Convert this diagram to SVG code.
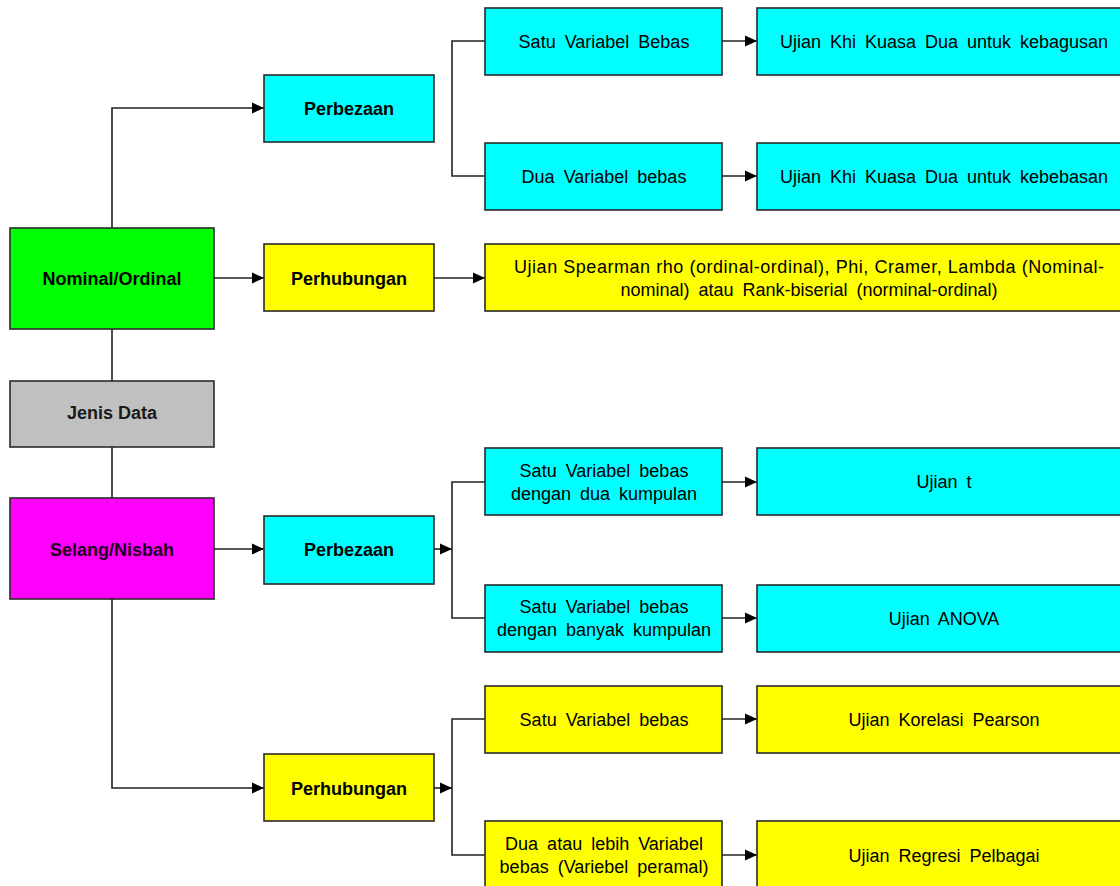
<svg xmlns="http://www.w3.org/2000/svg" width="1120" height="886" viewBox="0 0 1120 886">
<style>
.box{stroke:#2a2a2a;stroke-width:1.6}
.cy{fill:#00ffff}.ye{fill:#ffff00}.gr{fill:#00ff00}.mg{fill:#ff00ff}.gy{fill:#c0c0c0}
text{font-family:"Liberation Sans",Arial,sans-serif;font-size:18px;fill:#000;text-anchor:middle}
.b{font-weight:bold}
.r{word-spacing:4px}
.conn{fill:none;stroke:#222;stroke-width:1.6}
</style>
<defs>
<marker id="ah" markerUnits="userSpaceOnUse" markerWidth="12" markerHeight="12" viewBox="0 0 12 12" refX="12" refY="6" orient="auto">
<path d="M0,0.5 L12,6 L0,11.5 z" fill="#000"/>
</marker>
</defs>
<rect width="1120" height="886" fill="#fff"/>

<g id="connectors">
<path class="conn" d="M112,228 V108 H264" marker-end="url(#ah)"/>
<path class="conn" d="M214,278 H264" marker-end="url(#ah)"/>
<path class="conn" d="M434,278 H485" marker-end="url(#ah)"/>
<path class="conn" d="M485,41 H452 V176 H485"/>
<path class="conn" d="M722,41 H757" marker-end="url(#ah)"/>
<path class="conn" d="M722,176 H757" marker-end="url(#ah)"/>
<path class="conn" d="M112,329 V381"/>
<path class="conn" d="M112,447 V498"/>
<path class="conn" d="M214,549 H264" marker-end="url(#ah)"/>
<path class="conn" d="M434,549 H452" marker-end="url(#ah)"/>
<path class="conn" d="M485,482 H452 V618 H485"/>
<path class="conn" d="M722,482 H757" marker-end="url(#ah)"/>
<path class="conn" d="M722,618 H757" marker-end="url(#ah)"/>
<path class="conn" d="M112,599 V788 H264" marker-end="url(#ah)"/>
<path class="conn" d="M434,788 H452" marker-end="url(#ah)"/>
<path class="conn" d="M485,719 H452 V855 H485"/>
<path class="conn" d="M722,719 H757" marker-end="url(#ah)"/>
<path class="conn" d="M722,855 H757" marker-end="url(#ah)"/>
</g>

<g id="nominal"><rect class="box gr" x="10" y="228" width="204" height="101"/><text class="b" x="112" y="284.5">Nominal/Ordinal</text></g>
<g id="jenis"><rect class="box gy" x="10" y="381" width="204" height="66"/><text class="b" x="112" y="419" style="fill:#1a1a1a">Jenis Data</text></g>
<g id="selang"><rect class="box mg" x="10" y="498" width="204" height="101"/><text class="b" x="112" y="555.5" style="fill:#200020">Selang/Nisbah</text></g>

<g id="perbezaan1"><rect class="box cy" x="264" y="75" width="170" height="67"/><text class="b" x="349" y="114.5">Perbezaan</text></g>
<g id="perhubungan1"><rect class="box ye" x="264" y="244" width="170" height="67"/><text class="b" x="349" y="284.5">Perhubungan</text></g>
<g id="perbezaan2"><rect class="box cy" x="264" y="516" width="170" height="68"/><text class="b" x="349" y="555.5">Perbezaan</text></g>
<g id="perhubungan2"><rect class="box ye" x="264" y="754" width="170" height="67"/><text class="b" x="349" y="794.5">Perhubungan</text></g>

<g id="satu1"><rect class="box cy" x="485" y="8" width="237" height="67"/><text class="r" x="604" y="47.5">Satu Variabel Bebas</text></g>
<g id="dua1"><rect class="box cy" x="485" y="143" width="237" height="67"/><text class="r" x="604" y="182.5">Dua Variabel bebas</text></g>
<g id="khi1"><rect class="box cy" x="757" y="8" width="370" height="67"/><text class="r" x="944" y="47.5">Ujian Khi Kuasa Dua untuk kebagusan</text></g>
<g id="khi2"><rect class="box cy" x="757" y="143" width="370" height="67"/><text class="r" x="944" y="182.5">Ujian Khi Kuasa Dua untuk kebebasan</text></g>
<g id="spearman"><rect class="box ye" x="485" y="244" width="642" height="67"/>
<text x="809" y="272.5" textLength="590" lengthAdjust="spacing">Ujian Spearman rho (ordinal-ordinal), Phi, Cramer, Lambda (Nominal-</text>
<text class="r" x="809" y="295.5">nominal) atau Rank-biserial (norminal-ordinal)</text></g>

<g id="satu2"><rect class="box cy" x="485" y="448" width="237" height="67"/><text class="r" x="604" y="476.5">Satu Variabel bebas</text><text class="r" x="604" y="499.5">dengan dua kumpulan</text></g>
<g id="satu3"><rect class="box cy" x="485" y="585" width="237" height="67"/><text class="r" x="604" y="612.5">Satu Variabel bebas</text><text class="r" x="604" y="635.5">dengan banyak kumpulan</text></g>
<g id="ujiant"><rect class="box cy" x="757" y="448" width="370" height="67"/><text class="r" x="944" y="487.5">Ujian t</text></g>
<g id="anova"><rect class="box cy" x="757" y="585" width="370" height="67"/><text class="r" x="944" y="624.5">Ujian ANOVA</text></g>

<g id="satu4"><rect class="box ye" x="485" y="686" width="237" height="67"/><text class="r" x="604" y="725.5">Satu Variabel bebas</text></g>
<g id="dua2"><rect class="box ye" x="485" y="821" width="237" height="72"/><text class="r" x="604" y="849.5">Dua atau lebih Variabel</text><text class="r" x="604" y="872.5">bebas (Variebel peramal)</text></g>
<g id="pearson"><rect class="box ye" x="757" y="686" width="370" height="67"/><text class="r" x="944" y="725.5">Ujian Korelasi Pearson</text></g>
<g id="regresi"><rect class="box ye" x="757" y="821" width="370" height="72"/><text class="r" x="944" y="861.5">Ujian Regresi Pelbagai</text></g>
</svg>
